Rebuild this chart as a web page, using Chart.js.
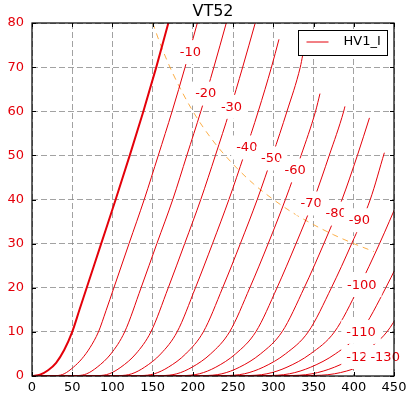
<!DOCTYPE html>
<html><head><meta charset="utf-8">
<script src="https://cdn.jsdelivr.net/npm/chart.js@4.4.1/dist/chart.umd.min.js"></script>
<style>html,body{margin:0;padding:0;background:#fff;}canvas{display:block;}</style>
</head><body>
<canvas id="c" width="411" height="397"></canvas>
<script>
// Plate curves of the VT52: [plate volts, plate mA] for each grid voltage
const g0   = [[0,0],[10,0.3],[20,1.3],[30,3.0],[40,5.9],[50,10],[59,15],[68,20],[86,30],[104,40],[121.5,50],[138.5,60],[154.5,70],[169.5,80]];
const g10  = [[0,0],[31,0.1],[40,0.5],[51.5,2],[62,3.9],[72,6.4],[82.6,10],[92,14.8],[101.8,20],[120.6,30],[139.5,40],[157,50],[174.2,60],[190.3,70],[205.5,80]];
const g20  = [[0,0],[57,0.1],[68,0.5],[81,2],[98,5],[115.2,10],[135.6,20],[155.2,30],[175,40],[192.5,50],[209.9,60],[226.1,70],[241.5,80]];
const g30  = [[0,0],[83,0.1],[96,0.5],[110.5,2],[129,5],[147.8,10],[169.4,20],[189.8,30],[209.8,40],[228,50],[245.6,60],[261.9,70],[277.5,80]];
const g40  = [[0,0],[109,0.1],[124,0.5],[140,2],[160,5],[180.4,10],[203.2,20],[224.4,30],[244.8,40],[263.5,50],[281.3,60],[297.7,70],[307,76.3]];
const g50  = [[0,0],[135,0.1],[152,0.5],[169.5,2],[191,5],[213,10],[237,20],[259,30],[280,40],[299,50],[317,60],[333.5,70],[336.5,72.7]];
const g60  = [[0,0],[161,0.1],[180,0.5],[199,2],[222,5],[245.6,10],[270.8,20],[293.6,30],[315,40],[334.5,50],[352.5,60],[358,64]];
const g70  = [[0,0],[187,0.1],[208,0.5],[228.5,2],[253,5],[278.2,10],[304.6,20],[328.2,30],[350.4,40],[369.5,50],[387.5,60],[389,61.1]];
const g80  = [[0,0],[213,0.1],[236,0.5],[258,2],[284,5],[310.8,10],[338.4,20],[362.8,30],[385.4,40],[404.5,50],[419.5,58.5]];
const g90  = [[0,0],[239,0.1],[264,0.5],[287.5,2],[315,5],[343.4,10],[372.2,20],[397.4,30],[420.5,40],[438,50.6]];
const g100 = [[0,0],[265,0.1],[292,0.5],[317,2],[346,5],[376,10],[406,20],[432,30],[456,40]];
const g110 = [[0,0],[291,0.1],[320,0.5],[346.5,2],[377,5],[408.6,10],[439.8,20],[466.6,30]];
const g120 = [[0,0],[317,0.1],[348,0.5],[376,2],[408,5],[441.2,10],[473.6,20]];
const g130 = [[0,0],[343,0.1],[376,0.5],[405.5,2],[439,5],[473.8,10]];
const curves = [g0,g10,g20,g30,g40,g50,g60,g70,g80,g90,g100,g110,g120,g130];

// Plate dissipation limit (dashed)
const powerLimit = [[150,80],[160,75],[175,68.6],[200,60],[225,53.3],[250,48],[275,43.6],[300,40],[325,36.9],[350,34.3],[375,32],[400,30],[425,28.2]];

// Inline curve labels: text and anchor (volts, mA)
const curveLabels = ['-10','-20','-30','-40','-50','-60','-70','-80','-90','-100','-110','-120','-130'];
const labelV = [197, 216, 248, 267, 298, 327, 347, 378, 407, 410, 409, 409, 439];
const labelI = [73.4, 64.0, 61.0, 51.8, 49.3, 46.6, 39.1, 36.8, 35.3, 20.6, 10.0, 4.3, 4.3];

const xTicks = [0,50,100,150,200,250,300,350,400,450];
const yTicks = [0,10,20,30,40,50,60,70,80];
const titleText = 'VT52';
const legendText = 'HV1_I';

const RED = 'rgb(228,0,10)';
const FONT = '"DejaVu Sans"';
Chart.defaults.font.family = 'DejaVu Sans';

const datasets = curves.map((pts, i) => ({
  data: pts, showLine: true, pointRadius: 0, pointHoverRadius: 0,
  borderColor: RED, borderWidth: i === 0 ? 2 : 1,
  cubicInterpolationMode: 'monotone', fill: false
}));
datasets.push({
  data: powerLimit, showLine: true, pointRadius: 0, pointHoverRadius: 0,
  borderColor: 'rgba(250,160,40,0.85)', borderWidth: 1, borderDash: [6,5],
  cubicInterpolationMode: 'monotone', fill: false
});

const overlay = {
  id: 'overlay',
  afterDatasetsDraw(chart) {
    const {ctx, chartArea: ca, scales: {x, y}} = chart;
    ctx.save();
    // curve labels with white boxes
    ctx.font = '13px ' + FONT;
    ctx.textAlign = 'center';
    ctx.textBaseline = 'middle';
    curveLabels.forEach((t, i) => {
      const px = x.getPixelForValue(labelV[i]);
      const py = y.getPixelForValue(labelI[i]);
      const w = ctx.measureText(t).width;
      ctx.fillStyle = '#fff';
      ctx.fillRect(px - w / 2 - 5, py - 12, w + 10, 24);
      ctx.fillStyle = RED;
      ctx.fillText(t, px, py + 0.5);
    });
    // legend
    const lw = 89, lh = 25;
    const lx = Math.round(ca.right - 7 - lw) + 0.5, ly = Math.round(ca.top + 7) + 0.5;
    ctx.fillStyle = '#fff';
    ctx.fillRect(lx, ly, lw, lh);
    ctx.strokeStyle = '#000'; ctx.lineWidth = 1;
    ctx.strokeRect(lx, ly, lw, lh);
    ctx.strokeStyle = RED; ctx.lineWidth = 1;
    ctx.beginPath(); ctx.moveTo(lx + 8, ly + 11.5); ctx.lineTo(lx + 30, ly + 11.5); ctx.stroke();
    ctx.fillStyle = '#000';
    ctx.textAlign = 'left';
    ctx.font = '13px ' + FONT;
    ctx.fillText(legendText, lx + 45, ly + 11.5);
    // frame
    ctx.strokeStyle = '#000'; ctx.lineWidth = 1.2;
    ctx.strokeRect(ca.left, ca.top, ca.right - ca.left, ca.bottom - ca.top);
    // inward ticks on all sides
    ctx.lineWidth = 1;
    ctx.beginPath();
    xTicks.forEach(v => {
      const px = Math.round(x.getPixelForValue(v)) + 0.5;
      ctx.moveTo(px, ca.bottom); ctx.lineTo(px, ca.bottom - 4);
      ctx.moveTo(px, ca.top); ctx.lineTo(px, ca.top + 4);
    });
    yTicks.forEach(v => {
      const py = Math.round(y.getPixelForValue(v)) + 0.5;
      ctx.moveTo(ca.left, py); ctx.lineTo(ca.left + 4, py);
      ctx.moveTo(ca.right, py); ctx.lineTo(ca.right - 4, py);
    });
    ctx.stroke();
    // title
    ctx.fillStyle = '#000';
    ctx.font = '16px ' + FONT;
    ctx.textAlign = 'center';
    ctx.textBaseline = 'alphabetic';
    ctx.fillText(titleText, (ca.left + ca.right) / 2, 16);
    ctx.restore();
  }
};

new Chart(document.getElementById('c'), {
  type: 'scatter',
  data: { datasets },
  options: {
    responsive: false, animation: false, devicePixelRatio: 1,
    layout: { padding: { top: 23, right: 17, left: 0, bottom: 0 } },
    plugins: { legend: { display: false }, tooltip: { enabled: false }, title: { display: false } },
    events: [],
    scales: {
      x: {
        type: 'linear', min: 0, max: 450,
        afterBuildTicks: s => { s.ticks = xTicks.map(v => ({ value: v })); },
        afterFit: s => { s.height = 21; },
        ticks: { color: '#000', font: { size: 13, family: 'DejaVu Sans' }, padding: 4, maxRotation: 0, autoSkip: false },
        grid: { color: '#8a8a8a', lineWidth: 0.8, drawTicks: false },
        border: { display: false, dash: [6, 3] }
      },
      y: {
        type: 'linear', min: 0, max: 80,
        afterBuildTicks: s => { s.ticks = yTicks.map(v => ({ value: v })); },
        afterFit: s => { s.width = 32; },
        ticks: { color: RED, font: { size: 13, family: 'DejaVu Sans' }, padding: 8, autoSkip: false },
        grid: { color: '#8a8a8a', lineWidth: 0.8, drawTicks: false },
        border: { display: false, dash: [6, 3] }
      }
    }
  },
  plugins: [overlay]
});
</script>
</body></html>
